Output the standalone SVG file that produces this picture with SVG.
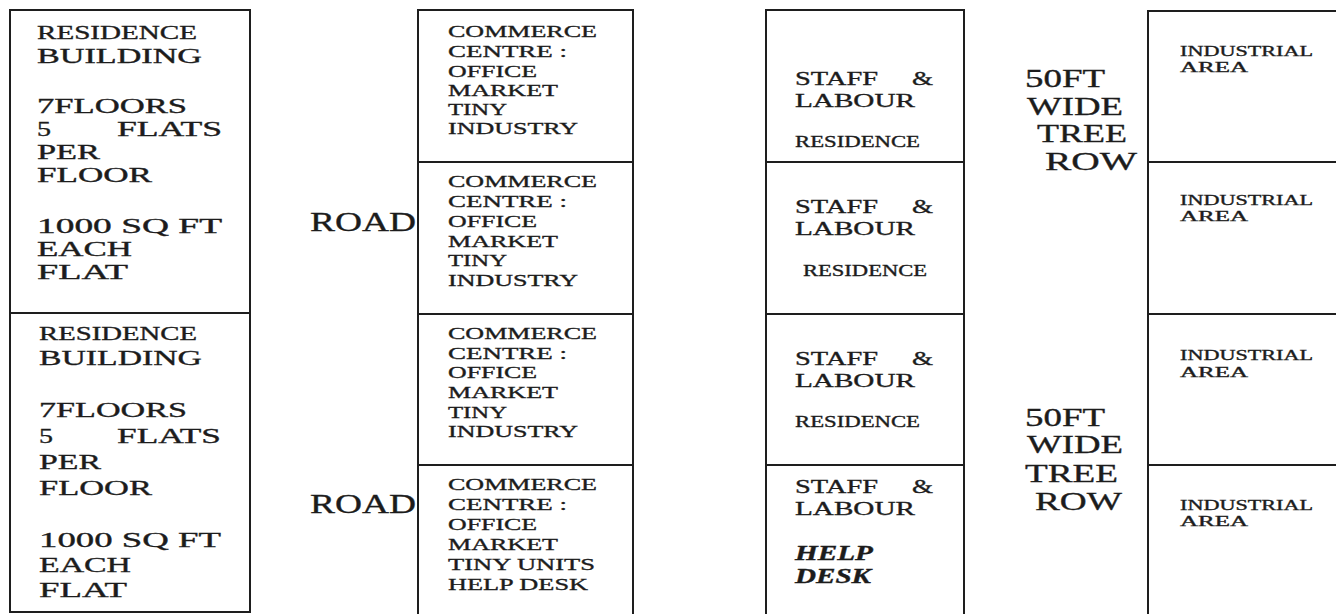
<svg xmlns="http://www.w3.org/2000/svg" width="1336" height="614" viewBox="0 0 1336 614">
<style>
.box{fill:none;stroke:#1e1e1e;stroke-width:2}
.t{font-family:"Liberation Serif","Times New Roman",serif;fill:#1c1c1c;stroke:#1c1c1c;stroke-width:0.35}
.l{font-size:20px}
.lb{font-size:22px}
.m{font-size:17px}
.s{font-size:19px}
.sr{font-size:16px}
.hd{font-size:20px;font-weight:bold;font-style:italic}
.w{font-size:26px}
.i{font-size:14px}
.r{font-size:28px}
</style>
<rect x="0" y="0" width="1336" height="614" fill="#ffffff"/>

<g id="residence-1">
<rect class="box" x="10" y="10" width="240" height="303"/>
<text class="t" x="37" y="39" font-size="19" textLength="160" lengthAdjust="spacingAndGlyphs">RESIDENCE</text>
<text class="t l" x="37" y="63" textLength="165" lengthAdjust="spacingAndGlyphs">BUILDING</text>
<text class="t l" x="37" y="113" textLength="150" lengthAdjust="spacingAndGlyphs">7FLOORS</text>
<text class="t l" x="37" y="136" textLength="14" lengthAdjust="spacingAndGlyphs">5</text>
<text class="t l" x="117" y="136" textLength="105" lengthAdjust="spacingAndGlyphs">FLATS</text>
<text class="t l" x="37" y="159" textLength="63" lengthAdjust="spacingAndGlyphs">PER</text>
<text class="t l" x="37" y="182" textLength="115" lengthAdjust="spacingAndGlyphs">FLOOR</text>
<text class="t l" x="37" y="233" textLength="185" lengthAdjust="spacingAndGlyphs">1000 SQ FT</text>
<text class="t l" x="37" y="256" textLength="95" lengthAdjust="spacingAndGlyphs">EACH</text>
<text class="t l" x="37" y="279" textLength="91" lengthAdjust="spacingAndGlyphs">FLAT</text>
</g>

<g id="residence-2">
<rect class="box" x="10" y="313" width="240" height="299"/>
<text class="t" x="39" y="340" font-size="19" textLength="158" lengthAdjust="spacingAndGlyphs">RESIDENCE</text>
<text class="t lb" x="39" y="365" textLength="163" lengthAdjust="spacingAndGlyphs">BUILDING</text>
<text class="t lb" x="39" y="417" textLength="148" lengthAdjust="spacingAndGlyphs">7FLOORS</text>
<text class="t lb" x="39" y="443" textLength="14" lengthAdjust="spacingAndGlyphs">5</text>
<text class="t lb" x="117" y="443" textLength="104" lengthAdjust="spacingAndGlyphs">FLATS</text>
<text class="t lb" x="39" y="469" textLength="62" lengthAdjust="spacingAndGlyphs">PER</text>
<text class="t lb" x="39" y="495" textLength="113" lengthAdjust="spacingAndGlyphs">FLOOR</text>
<text class="t lb" x="39" y="547" textLength="182" lengthAdjust="spacingAndGlyphs">1000 SQ FT</text>
<text class="t lb" x="39" y="572" textLength="92" lengthAdjust="spacingAndGlyphs">EACH</text>
<text class="t lb" x="39" y="597" textLength="88" lengthAdjust="spacingAndGlyphs">FLAT</text>
</g>

<g id="road-1"><text class="t r" x="310" y="231" textLength="106" lengthAdjust="spacingAndGlyphs">ROAD</text></g>
<g id="road-2"><text class="t r" x="310" y="513" textLength="106" lengthAdjust="spacingAndGlyphs">ROAD</text></g>

<g id="commerce-1">
<rect class="box" x="418" y="10" width="215" height="152"/>
<text class="t m" x="448" y="37" textLength="149" lengthAdjust="spacingAndGlyphs">COMMERCE</text>
<text class="t m" x="448" y="57" textLength="119" lengthAdjust="spacingAndGlyphs">CENTRE :</text>
<text class="t m" x="448" y="77" textLength="89" lengthAdjust="spacingAndGlyphs">OFFICE</text>
<text class="t m" x="448" y="96" textLength="110" lengthAdjust="spacingAndGlyphs">MARKET</text>
<text class="t m" x="448" y="115" textLength="59" lengthAdjust="spacingAndGlyphs">TINY</text>
<text class="t m" x="448" y="134" textLength="130" lengthAdjust="spacingAndGlyphs">INDUSTRY</text>
</g>
<g id="commerce-2">
<rect class="box" x="418" y="162" width="215" height="152"/>
<text class="t m" x="448" y="187" textLength="149" lengthAdjust="spacingAndGlyphs">COMMERCE</text>
<text class="t m" x="448" y="207" textLength="119" lengthAdjust="spacingAndGlyphs">CENTRE :</text>
<text class="t m" x="448" y="227" textLength="89" lengthAdjust="spacingAndGlyphs">OFFICE</text>
<text class="t m" x="448" y="247" textLength="110" lengthAdjust="spacingAndGlyphs">MARKET</text>
<text class="t m" x="448" y="266" textLength="59" lengthAdjust="spacingAndGlyphs">TINY</text>
<text class="t m" x="448" y="286" textLength="130" lengthAdjust="spacingAndGlyphs">INDUSTRY</text>
</g>
<g id="commerce-3">
<rect class="box" x="418" y="314" width="215" height="151"/>
<text class="t m" x="448" y="339" textLength="149" lengthAdjust="spacingAndGlyphs">COMMERCE</text>
<text class="t m" x="448" y="359" textLength="119" lengthAdjust="spacingAndGlyphs">CENTRE :</text>
<text class="t m" x="448" y="378" textLength="89" lengthAdjust="spacingAndGlyphs">OFFICE</text>
<text class="t m" x="448" y="398" textLength="110" lengthAdjust="spacingAndGlyphs">MARKET</text>
<text class="t m" x="448" y="418" textLength="59" lengthAdjust="spacingAndGlyphs">TINY</text>
<text class="t m" x="448" y="437" textLength="130" lengthAdjust="spacingAndGlyphs">INDUSTRY</text>
</g>
<g id="commerce-4">
<rect class="box" x="418" y="465" width="215" height="160"/>
<text class="t m" x="448" y="490" textLength="149" lengthAdjust="spacingAndGlyphs">COMMERCE</text>
<text class="t m" x="448" y="510" textLength="119" lengthAdjust="spacingAndGlyphs">CENTRE :</text>
<text class="t m" x="448" y="530" textLength="89" lengthAdjust="spacingAndGlyphs">OFFICE</text>
<text class="t m" x="448" y="550" textLength="110" lengthAdjust="spacingAndGlyphs">MARKET</text>
<text class="t m" x="448" y="570" textLength="147" lengthAdjust="spacingAndGlyphs">TINY UNITS</text>
<text class="t m" x="448" y="590" textLength="140" lengthAdjust="spacingAndGlyphs">HELP DESK</text>
</g>

<g id="staff-1">
<rect class="box" x="766" y="10" width="198" height="152"/>
<text class="t s" x="795" y="85" textLength="83" lengthAdjust="spacingAndGlyphs">STAFF</text>
<text class="t s" x="912" y="85" textLength="21" lengthAdjust="spacingAndGlyphs">&amp;</text>
<text class="t s" x="795" y="107" textLength="120" lengthAdjust="spacingAndGlyphs">LABOUR</text>
<text class="t sr" x="795" y="147" textLength="125" lengthAdjust="spacingAndGlyphs">RESIDENCE</text>
</g>
<g id="staff-2">
<rect class="box" x="766" y="162" width="198" height="152"/>
<text class="t s" x="795" y="213" textLength="83" lengthAdjust="spacingAndGlyphs">STAFF</text>
<text class="t s" x="912" y="213" textLength="21" lengthAdjust="spacingAndGlyphs">&amp;</text>
<text class="t s" x="795" y="235" textLength="120" lengthAdjust="spacingAndGlyphs">LABOUR</text>
<text class="t sr" x="803" y="276" textLength="124" lengthAdjust="spacingAndGlyphs">RESIDENCE</text>
</g>
<g id="staff-3">
<rect class="box" x="766" y="314" width="198" height="151"/>
<text class="t s" x="795" y="365" textLength="83" lengthAdjust="spacingAndGlyphs">STAFF</text>
<text class="t s" x="912" y="365" textLength="21" lengthAdjust="spacingAndGlyphs">&amp;</text>
<text class="t s" x="795" y="387" textLength="120" lengthAdjust="spacingAndGlyphs">LABOUR</text>
<text class="t sr" x="795" y="427" textLength="125" lengthAdjust="spacingAndGlyphs">RESIDENCE</text>
</g>
<g id="staff-4">
<rect class="box" x="766" y="465" width="198" height="160"/>
<text class="t s" x="795" y="493" textLength="83" lengthAdjust="spacingAndGlyphs">STAFF</text>
<text class="t s" x="912" y="493" textLength="21" lengthAdjust="spacingAndGlyphs">&amp;</text>
<text class="t s" x="795" y="515" textLength="120" lengthAdjust="spacingAndGlyphs">LABOUR</text>
<text class="t hd" x="795" y="560" textLength="78" lengthAdjust="spacingAndGlyphs">HELP</text>
<text class="t hd" x="795" y="583" textLength="76" lengthAdjust="spacingAndGlyphs">DESK</text>
</g>

<g id="tree-row-1">
<text class="t w" x="1025" y="87" textLength="80" lengthAdjust="spacingAndGlyphs">50FT</text>
<text class="t w" x="1027" y="115" textLength="96" lengthAdjust="spacingAndGlyphs">WIDE</text>
<text class="t w" x="1037" y="142" textLength="90" lengthAdjust="spacingAndGlyphs">TREE</text>
<text class="t w" x="1045" y="170" textLength="92" lengthAdjust="spacingAndGlyphs">ROW</text>
</g>
<g id="tree-row-2">
<text class="t w" x="1025" y="426" textLength="80" lengthAdjust="spacingAndGlyphs">50FT</text>
<text class="t w" x="1027" y="453" textLength="96" lengthAdjust="spacingAndGlyphs">WIDE</text>
<text class="t w" x="1025" y="482" textLength="93" lengthAdjust="spacingAndGlyphs">TREE</text>
<text class="t w" x="1035" y="510" textLength="87" lengthAdjust="spacingAndGlyphs">ROW</text>
</g>

<g id="industrial-1">
<rect class="box" x="1148" y="11" width="200" height="151"/>
<text class="t i" x="1180" y="56" textLength="133" lengthAdjust="spacingAndGlyphs">INDUSTRIAL</text>
<text class="t i" x="1180" y="72" textLength="68" lengthAdjust="spacingAndGlyphs">AREA</text>
</g>
<g id="industrial-2">
<rect class="box" x="1148" y="162" width="200" height="152"/>
<text class="t i" x="1180" y="205" textLength="133" lengthAdjust="spacingAndGlyphs">INDUSTRIAL</text>
<text class="t i" x="1180" y="221" textLength="68" lengthAdjust="spacingAndGlyphs">AREA</text>
</g>
<g id="industrial-3">
<rect class="box" x="1148" y="314" width="200" height="151"/>
<text class="t i" x="1180" y="360" textLength="133" lengthAdjust="spacingAndGlyphs">INDUSTRIAL</text>
<text class="t i" x="1180" y="377" textLength="68" lengthAdjust="spacingAndGlyphs">AREA</text>
</g>
<g id="industrial-4">
<rect class="box" x="1148" y="465" width="200" height="160"/>
<text class="t i" x="1180" y="510" textLength="133" lengthAdjust="spacingAndGlyphs">INDUSTRIAL</text>
<text class="t i" x="1180" y="526" textLength="68" lengthAdjust="spacingAndGlyphs">AREA</text>
</g>
</svg>
